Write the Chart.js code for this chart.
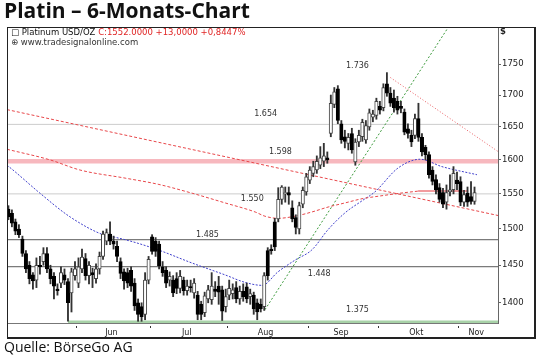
<!DOCTYPE html>
<html>
<head>
<meta charset="utf-8">
<script src="https://cdn.jsdelivr.net/npm/chart.js@4.4.1/dist/chart.umd.min.js"></script>
<style>
  html, body { margin: 0; padding: 0; background: #fff; }
  #wrap { position: relative; width: 540px; height: 362px; overflow: hidden; }
  #c { position: absolute; left: 0; top: 0; }
  .title { position: absolute; left: 4px; top: 0px; font: bold 21px/21px "Open Sans", sans-serif; color: #111; white-space: nowrap; }
  .source { position: absolute; left: 4px; top: 340px; font: 14px/14px "Open Sans", sans-serif; color: #111; white-space: nowrap; }
  .head { position: absolute; left: 11px; font: 8.5px/8.5px "DejaVu Sans", sans-serif; white-space: nowrap; color: #111; }
  .red { color: #e02424; }
</style>
</head>
<body>
<div id="wrap">
  <canvas id="c" width="540" height="362"></canvas>
  <div class="title">Platin – 6-Monats-Chart</div>
  <div class="head" style="top:28px">□ Platinum USD/OZ <span class="red">C:1552.0000 +13,0000 +0,8447%</span></div>
  <div class="head" style="top:38px;color:#333">⊕ www.tradesignalonline.com</div>
  <div class="source">Quelle: BörseGo AG</div>
</div>
<script>
// months on the time axis (first bar index of each month)
var monthLabels = ['Jun', 'Jul', 'Aug', 'Sep', 'Okt', 'Nov'];
var monthStart = [20, 41, 63, 86, 106, 129];

// daily candles, early May to early Nov
var opens = [1528,1522,1510,1500,1486,1466,1450,1437,1430,1450,1455,1466,1445,1435,1418,1426,1437,1428,1413,1436,
  1426,1445,1459,1436,1440,1432,1445,1462,1483,1493,1483,1476,1455,1441,1440,1443,1426,1400,1395,1385,1430,
  1489,1483,1479,1448,1443,1430,1430,1432,1419,1430,1416,1421,1413,1410,1398,1387,1405,1404,1418,1422,1417,1395,
  1410,1412,1420,1405,1415,1421,1408,1410,1400,1398,1395,1470,1472,1510,1514,1542,1550,1552,1530,1516,1500,1535,1553,
  1570,1580,1585,1592,1598,1603,1640,1685,1710,1655,1635,1625,1640,1597,1627,1635,1630,1650,1665,1668,
  1682,1680,1718,1703,1695,1690,1682,1673,1647,1637,1637,1663,1634,1619,1608,1585,1571,1559,1552,1538,1553,1556,1570,
  1568,1538,1551,1546,1539];
var highs = [1533,1527,1514,1506,1490,1470,1455,1440,1460,1462,1474,1474,1450,1440,1425,1448,1445,1432,1446,1455,
  1460,1472,1466,1455,1446,1452,1468,1497,1500,1510,1490,1483,1460,1445,1446,1448,1432,1405,1400,1440,1462,
  1492,1488,1483,1455,1448,1441,1436,1440,1443,1434,1430,1430,1432,1415,1402,1414,1423,1440,1428,1435,1422,1418,
  1430,1425,1428,1422,1425,1426,1418,1414,1405,1405,1440,1474,1478,1515,1559,1562,1560,1560,1540,1520,1538,1560,1580,
  1590,1598,1606,1620,1625,1612,1700,1712,1715,1660,1645,1640,1648,1632,1645,1662,1660,1678,1676,1695,
  1690,1718,1736,1712,1708,1698,1690,1678,1655,1645,1670,1687,1640,1622,1612,1590,1578,1565,1558,1563,1578,1590,1582,
  1575,1555,1560,1568,1560];
var lows = [1513,1503,1492,1488,1462,1440,1425,1418,1420,1438,1450,1440,1425,1405,1410,1420,1424,1376,1388,1430,
  1420,1440,1430,1425,1420,1426,1438,1458,1478,1478,1472,1455,1432,1418,1420,1415,1390,1376,1376,1378,1425,
  1465,1462,1445,1435,1420,1422,1408,1412,1413,1410,1410,1414,1406,1378,1378,1382,1400,1398,1408,1398,1377,1388,
  1404,1405,1400,1398,1402,1400,1398,1385,1378,1388,1390,1430,1465,1470,1510,1535,1538,1535,1510,1493,1493,1530,1548,
  1565,1575,1580,1587,1590,1595,1635,1680,1655,1625,1618,1615,1610,1592,1620,1628,1625,1645,1658,1662,
  1670,1675,1698,1682,1673,1670,1672,1638,1633,1620,1632,1628,1606,1600,1573,1563,1550,1538,1530,1528,1547,1550,1556,
  1533,1532,1532,1535,1535];
var closes = [1517,1508,1497,1492,1466,1445,1432,1429,1450,1448,1466,1445,1432,1422,1416,1440,1430,1400,1441,1445,
  1448,1461,1436,1450,1437,1445,1462,1493,1495,1483,1479,1462,1439,1429,1426,1422,1396,1385,1382,1430,1458,
  1469,1469,1449,1440,1426,1435,1413,1419,1435,1416,1422,1420,1426,1385,1385,1409,1417,1422,1415,1414,1389,1408,
  1419,1417,1405,1415,1408,1405,1412,1392,1388,1392,1436,1436,1470,1475,1542,1560,1552,1548,1514,1502,1533,1555,1575,
  1585,1590,1598,1603,1606,1600,1687,1705,1660,1630,1628,1634,1615,1627,1637,1657,1652,1672,1670,1690,
  1676,1712,1703,1687,1680,1676,1679,1642,1640,1627,1663,1634,1612,1608,1578,1568,1556,1542,1535,1552,1556,1580,1565,
  1538,1549,1538,1539,1552];

var yTicks = [1400, 1450, 1500, 1550, 1600, 1650, 1700, 1750];

// horizontal levels marked on the chart
var levelValues = [1654, 1598, 1550, 1485, 1448, 1375];
var levelTexts = ['1.654', '1.598', '1.550', '1.485', '1.448', '1.375'];

// moving averages (bar index, price)
var blueMaIdx = [-0.4, 1.3, 9.0, 17.6, 27.0, 29.9, 35.6, 42.7, 52.4, 61.8, 67.5, 72.4, 76.9, 81.8, 86.6, 91.2, 96.1, 100.9, 104.6, 111.2, 117.5, 123.7, 133.7];
var blueMaVal = [1592, 1585, 1551, 1517, 1492, 1489, 1482, 1471, 1453, 1437, 1427, 1423, 1441, 1457, 1471, 1499, 1523, 1540, 1553, 1588, 1601, 1590, 1578];
var redMaIdx = [-0.4, 11.9, 20.4, 33.3, 42.7, 52.4, 61.8, 70.4, 73.2, 76.9, 81.8, 86.6, 91.2, 96.1, 100.9, 106.1, 111.8, 116.9];
var redMaVal = [1616, 1600, 1585, 1573, 1564, 1551, 1537, 1524, 1518, 1515, 1518, 1524, 1531, 1537, 1543, 1547, 1551, 1554];
var redFlatIdx = [116.9, 131.2];
var redFlatVal = [1554, 1554];

// trend lines (bar index, price)
var longTrendIdx = [-0.4, 139.7];
var longTrendVal = [1677, 1519];
var resistIdx = [109.0, 139.6];
var resistVal = [1728, 1613];
var supportIdx = [73.2, 128];
var supportVal = [1391, 1834];

var X_MIN = -0.4, X_MAX = 139.7, Y_MIN = 1373.8, Y_MAX = 1811.6;

function pts(idx, val) {
  return idx.map(function (x, k) { return { x: x, y: val[k] }; });
}

var barIdx = opens.map(function (_, i) { return i; });
var wickData = barIdx.map(function (i) { return { x: i, y: [lows[i], highs[i]] }; });
var bodyData = barIdx.map(function (i) {
  return { x: i, y: [Math.min(opens[i], closes[i]), Math.max(opens[i], closes[i])] };
});

var levelStyle = [
  { c: '#cccccc', w: 1 },
  { c: '#f7b8be', w: 4.5 },
  { c: '#cccccc', w: 1 },
  { c: '#5a5a5a', w: 1 },
  { c: '#5a5a5a', w: 1 },
  { c: '#a8d2a8', w: 3 }
];

// green support level starts at the May low
var mayLow = 0;
for (var i = 1; i < monthStart[0]; i++) if (lows[i] < lows[mayLow]) mayLow = i;

var datasets = [];
levelValues.forEach(function (v, k) {
  var x0 = k === levelValues.length - 1 ? mayLow : X_MIN;
  datasets.push({
    type: 'line', data: pts([x0, X_MAX], [v, v]), borderColor: levelStyle[k].c,
    borderWidth: levelStyle[k].w, pointRadius: 0, order: 10
  });
});

function lineSet(idx, val, color, dash, smooth) {
  return {
    type: 'line', data: pts(idx, val), borderColor: color, borderWidth: 1, borderDash: dash,
    pointRadius: 0, order: 5, cubicInterpolationMode: smooth ? 'monotone' : 'default', tension: 0
  };
}
datasets.push(lineSet(longTrendIdx, longTrendVal, '#e8474a', [3, 2], false));
datasets.push(lineSet(redMaIdx, redMaVal, '#e8474a', [3, 2], true));
datasets.push(lineSet(redFlatIdx, redFlatVal, '#ee7a7e', [], false));
datasets[datasets.length - 1].borderWidth = 1.5;
datasets.push(lineSet(resistIdx, resistVal, '#e85a5e', [1, 2], false));
datasets.push(lineSet(supportIdx, supportVal, '#3c9a3c', [2, 2], false));
datasets.push(lineSet(blueMaIdx, blueMaVal, '#4040cc', [2, 1.5], true));

datasets.push({
  type: 'bar', data: wickData, grouped: false, barThickness: 1.2, backgroundColor: '#333',
  borderWidth: 0, order: 2
});
datasets.push({
  type: 'bar', data: bodyData, grouped: false, barThickness: 3.4, minBarLength: 1,
  backgroundColor: function (ctx) { var i = ctx.dataIndex; return closes[i] < opens[i] ? '#000' : '#fff'; },
  borderColor: function (ctx) { var i = ctx.dataIndex; return closes[i] < opens[i] ? '#000' : '#444'; },
  borderWidth: 1, borderSkipped: false, order: 1
});

// month boundaries get a tick mark, month centres get the label
var boundaries = monthStart.map(function (s) { return s - 0.5; });
var centres = monthStart.map(function (s, k) {
  var end = k + 1 < monthStart.length ? monthStart[k + 1] - 0.5 : X_MAX;
  return (s - 0.5 + end) / 2 - 0.6;
});
function labelAt(v) {
  for (var k = 0; k < centres.length; k++) if (Math.abs(centres[k] - v) < 1e-6) return monthLabels[k];
  return '';
}

var textPlugin = {
  id: 'texts',
  afterDatasetsDraw: function (chart) {
    var c = chart.ctx, xs = chart.scales.x, ys = chart.scales.y;
    c.save();
    c.font = '8px "DejaVu Sans"';
    c.fillStyle = '#333';
    c.textAlign = 'center';
    c.textBaseline = 'middle';
    var pos = [[73.4, -10], [77.6, -9.5], [69.6, 5], [56.8, -5], [88.7, 7.5], [99.6, -12.5]];
    levelTexts.forEach(function (t, k) {
      c.fillText(t, xs.getPixelForValue(pos[k][0]), ys.getPixelForValue(levelValues[k]) + pos[k][1]);
    });
    var peak = Math.max.apply(null, highs);
    c.fillText(String(peak).replace(/^(\d)/, '$1.'), xs.getPixelForValue(99.6), ys.getPixelForValue(peak) - 6.5);
    c.font = 'bold 8.5px "DejaVu Sans"';
    c.textAlign = 'left';
    c.fillStyle = '#222';
    c.fillText('$', chart.chartArea.right + 2, chart.chartArea.top + 5);
    c.restore();
  },
  afterDraw: function (chart) {
    var c = chart.ctx;
    c.save();
    c.strokeStyle = '#222';
    c.lineWidth = 1;
    c.strokeRect(7.5, 27.5, 527, 310);
    c.beginPath();
    c.moveTo(535.5, 27); c.lineTo(535.5, 339);
    c.moveTo(7, 338.5); c.lineTo(536, 338.5);
    c.stroke();
    c.restore();
  }
};

Chart.defaults.font.family = '"DejaVu Sans", sans-serif';

new Chart(document.getElementById('c'), {
  type: 'bar',
  data: { datasets: datasets },
  plugins: [textPlugin],
  options: {
    responsive: false,
    animation: false,
    devicePixelRatio: 1,
    layout: { padding: { left: 7, top: 27, right: 5, bottom: 25 } },
    plugins: { legend: { display: false }, tooltip: { enabled: false } },
    scales: {
      x: {
        type: 'linear', min: X_MIN, max: X_MAX, offset: false,
        afterBuildTicks: function (s) {
          s.ticks = boundaries.concat(centres).sort(function (a, b) { return a - b; })
            .map(function (v) { return { value: v }; });
        },
        afterFit: function (s) { s.height = 14; },
        border: { display: true, color: '#777', width: 1 },
        grid: {
          offset: false, drawOnChartArea: false, tickLength: 5, tickBorderDash: [0, 2, 2, 10],
          tickColor: function (ctx) { return ctx.tick && labelAt(ctx.tick.value) === '' ? '#333' : 'rgba(0,0,0,0)'; }
        },
        ticks: {
          autoSkip: false, maxRotation: 0, minRotation: 0, padding: 0, color: '#222',
          font: { size: 8 },
          callback: function (v) { return labelAt(v); }
        }
      },
      y: {
        type: 'logarithmic', position: 'right', min: Y_MIN, max: Y_MAX,
        afterBuildTicks: function (s) { s.ticks = yTicks.map(function (v) { return { value: v }; }); },
        afterFit: function (s) { s.width = 37; },
        border: { display: true, color: '#666', width: 1 },
        grid: { drawOnChartArea: false, tickLength: 3, tickColor: '#666' },
        ticks: {
          padding: 1, color: '#222', font: { size: 8.5 },
          callback: function (v) { return String(v); }
        }
      }
    }
  }
});
</script>
</body>
</html>
